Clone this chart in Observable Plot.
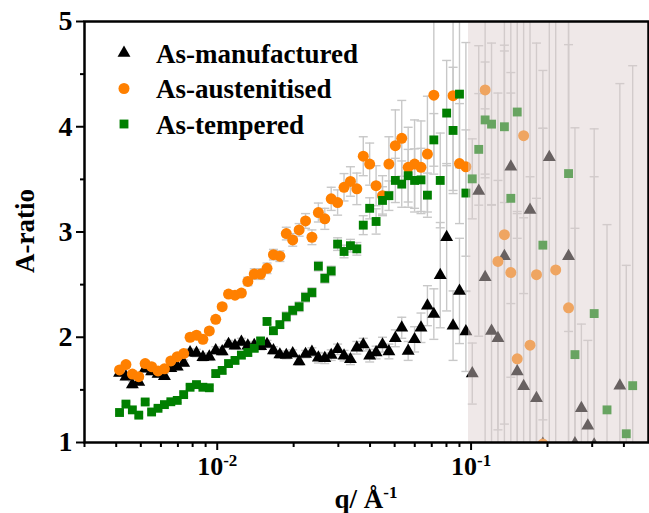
<!DOCTYPE html>
<html><head><meta charset="utf-8">
<script src="https://cdn.jsdelivr.net/npm/d3@7"></script>
<script src="https://cdn.jsdelivr.net/npm/@observablehq/plot@0.6"></script>
<style>
body{margin:0;background:#fff;}
#wrap{position:relative;width:649px;height:513px;}
</style></head><body><div id="wrap"></div>
<script>
// ---- data ----
const q = [0.004122,0.004369,0.004631,0.004908,0.005202,0.005514,0.005844,0.006194,0.006565,0.006958,
 0.007375,0.007817,0.008285,0.008781,0.009307,0.009865,0.01046,0.01108,0.01175,0.01245,
 0.01320,0.01399,0.01482,0.01571,0.01665,0.01765,0.01871,0.01983,0.02102,0.02228,
 0.02361,0.02503,0.02653,0.02812,0.02980,0.03159,0.03348,0.03548,0.03761,0.03986,
 0.04225,0.04478,0.04746,0.05031,0.05332,0.05652,0.05990,0.06349,0.06730,0.07133,
 0.07560,0.08013,0.08493,0.09002,0.09541,0.1011,0.1072,0.1136,0.1204,0.1276,
 0.1353,0.1434,0.1520,0.1611,0.1707,0.1810,0.1918,0.2033,0.2155,0.2284,
 0.2421,0.2566,0.2720,0.2883,0.3055,0.3238,0.3432,0.3638,0.3856,0.4087,
 0.4332];

const manufactured = [1.66,1.625,1.55,1.575,1.70,1.675,1.65,1.63,1.705,1.72,
 1.755,1.855,1.85,1.81,1.815,1.875,1.865,1.935,1.92,1.955,
 1.92,1.925,1.915,1.935,1.875,1.835,1.83,1.845,1.77,1.84,
 1.86,1.805,1.80,1.83,1.885,1.825,1.79,1.90,1.93,1.825,
 1.855,1.93,1.865,1.99,2.09,1.87,1.98,2.09,2.30,2.22,
 2.59,2.95,2.11,2.44,2.055,1.655,3.39,2.57,2.06,1.99,
 2.77,3.62,1.675,1.535,3.21,1.42,0.985,3.71,null,null,
 2.77,0.99,1.325,1.16,0.98,null,null,null,1.54,null,null];
const manufacturedErr = [0.03,0.03,0.03,0.03,0.03,0.03,0.03,0.03,0.03,0.03,
 0.03,0.035,0.035,0.035,0.035,0.035,0.035,0.035,0.035,0.035,
 0.035,0.035,0.035,0.035,0.035,0.035,0.035,0.035,0.035,0.035,
 0.04,0.05,0.05,0.05,0.05,0.05,0.05,0.06,0.06,0.06,
 0.06,0.07,0.07,0.08,0.10,0.09,0.12,0.14,0.19,0.24,
 0.5,0.7,0.33,0.5,0.38,0.29,1.38,1.6,1.2,1.5,
 2.5,2.0,1.5,1.6,2.5,1.9,3,3,0,0,
 3,3,0.8,0.81,3,0,0,0,2.87,0,0];

const austenitised = [1.69,1.74,1.65,1.625,1.75,1.72,1.68,1.70,1.775,1.815,
 1.845,2.00,2.02,1.98,2.06,2.17,2.29,2.41,2.40,2.42,
 2.53,2.60,2.60,2.655,2.785,2.77,2.985,2.925,3.02,3.105,
 2.95,3.185,3.125,3.315,3.28,3.425,3.48,3.41,3.72,3.645,
 3.44,3.345,3.645,3.82,3.89,3.615,3.645,3.615,3.74,4.30,
 null,null,4.295,3.65,3.62,null,null,4.35,null,2.72,
 2.975,2.615,1.795,3.915,1.925,2.595,0.985,null,2.64,null,
 2.28,null,null,null,null,null,null,null,null,null,null];
const austenitisedErr = [0.025,0.025,0.025,0.025,0.025,0.025,0.025,0.025,0.025,0.025,
 0.03,0.03,0.03,0.03,0.03,0.03,0.03,0.03,0.03,0.03,
 0.04,0.05,0.05,0.05,0.05,0.05,0.06,0.06,0.06,0.07,
 0.07,0.09,0.10,0.11,0.12,0.13,0.14,0.15,0.185,0.2,
 0.19,0.19,0.26,0.34,0.36,0.38,0.42,0.44,0.55,0.75,
 0,0,0.9,0.57,1.18,0,0,0.8,0,1.6,
 1.8,1.9,1.4,1.5,1.6,2.2,3,0,2.4,0,
 2.5,0,0,0,0,0,0,0,0,0,0];

const tempered = [1.285,1.365,1.31,1.26,1.385,1.29,1.325,1.36,1.387,1.40,
 1.455,1.525,1.55,1.525,1.52,1.655,1.685,1.75,1.78,1.83,
 1.855,1.895,1.965,2.15,2.062,2.12,2.195,2.255,2.29,2.38,
 2.425,2.675,2.56,2.63,2.885,2.815,2.87,2.84,3.065,3.225,
 3.10,3.30,3.345,3.49,3.455,3.535,3.49,3.495,3.35,3.875,
 3.49,4.13,3.965,4.31,3.37,3.505,3.785,4.065,4.025,null,
 4.0,3.32,4.14,null,null,null,2.875,null,null,null,
 3.555,1.835,null,null,2.225,null,1.31,null,null,1.083,1.54];
const temperedErr = [0.02,0.02,0.02,0.02,0.02,0.02,0.02,0.02,0.02,0.02,
 0.02,0.02,0.02,0.02,0.02,0.03,0.03,0.03,0.03,0.03,
 0.03,0.03,0.03,0.03,0.03,0.03,0.045,0.045,0.045,0.045,
 0.045,0.045,0.045,0.045,0.06,0.06,0.06,0.06,0.09,0.1,
 0.12,0.13,0.14,0.21,0.22,0.25,0.3,0.3,0.21,0.25,
 0.45,0.5,0.6,0.7,0.6,0.38,0.53,0.55,0.77,0,
 0.72,1.0,1.2,0,0,0,1.66,0,0,0,
 1.5,1.2,0,0,1.3,0,1.76,0,0,1.6,3.04];

const seriesNames = ["As-manufactured", "As-austenitised", "As-tempered"];
const seriesColors = ["#000000", "#ff8000", "#007f00"];
const xMajorTicks = [0.01, 0.1];
const xMinorTicks = [0.003,0.004,0.005,0.006,0.007,0.008,0.009,0.02,0.03,0.04,0.05,0.06,0.07,0.08,0.09,0.2,0.3,0.4];
const yMajorTicks = [1, 2, 3, 4, 5];
const yMinorTicks = [1.5, 2.5, 3.5, 4.5];
const shadeRange = [{x1: 0.0977, x2: 0.5, y1: 1, y2: 5}];

// ---- build tables ----
function rows(vals, errs, s) {
  return q.map((x, i) => ({q: x, a: vals[i], e: errs[i], s})).filter(d => d.a != null);
}
const dMan = rows(manufactured, manufacturedErr, seriesNames[0]);
const dAus = rows(austenitised, austenitisedErr, seriesNames[1]);
const dTem = rows(tempered, temperedErr, seriesNames[2]);
const all = [...dMan, ...dAus, ...dTem];

const cap = {draw(ctx) { ctx.moveTo(-4.5, 0); ctx.lineTo(4.5, 0); }};
const errColor = "#c8c8c8";
const font = "'Liberation Serif', 'Times New Roman', serif";
const markerR = [4.8, 5.5, 5.0];

const chart = Plot.plot({
  width: 649, height: 513,
  marginLeft: 84, marginRight: 1, marginTop: 21, marginBottom: 71,
  style: {fontFamily: font, fontWeight: "bold", background: "white", color: "black"},
  x: {type: "log", domain: [0.003, 0.5], axis: null},
  y: {domain: [1, 5], axis: null},
  marks: [
    Plot.ruleX(all, {x: "q", y1: d => d.a - d.e, y2: d => d.a + d.e, stroke: errColor, strokeWidth: 1.4, clip: true}),
    Plot.dot(all, {x: "q", y: d => d.a + d.e, symbol: cap, r: 3, fill: "none", stroke: errColor, strokeWidth: 1.4, clip: true}),
    Plot.dot(all, {x: "q", y: d => d.a - d.e, symbol: cap, r: 3, fill: "none", stroke: errColor, strokeWidth: 1.4, clip: true}),
    Plot.dot(dMan, {x: "q", y: "a", symbol: "triangle", r: markerR[0], fill: seriesColors[0], clip: true}),
    Plot.dot(dAus, {x: "q", y: "a", symbol: "circle", r: markerR[1], fill: seriesColors[1], clip: true}),
    Plot.dot(dTem, {x: "q", y: "a", symbol: "square", r: markerR[2], fill: seriesColors[2], clip: true}),
    Plot.rect(shadeRange, {x1: "x1", x2: "x2", y1: "y1", y2: "y2", fill: "#dccfcf", fillOpacity: 0.47}),
    Plot.axisX(xMinorTicks, {anchor: "bottom", tickSize: 5, strokeWidth: 2, tickFormat: () => "", label: null}),
    Plot.axisX(xMajorTicks, {anchor: "bottom", tickSize: 8, strokeWidth: 2, tickPadding: 6, fontSize: 26, fontWeight: "bold",
      tickFormat: d => "10^" + Math.round(Math.log10(d)), label: null}),
    Plot.axisY(yMinorTicks, {anchor: "left", tickSize: 4, strokeWidth: 2, tickFormat: () => "", label: null}),
    Plot.axisY(yMajorTicks, {anchor: "left", tickSize: 8, strokeWidth: 2, tickPadding: 4, fontSize: 28, fontWeight: "bold",
      tickFormat: d => String(d), label: null}),
    Plot.frame({stroke: "black", strokeWidth: 2.5})
  ]
});

const svg = d3.select(chart);
// superscripts for x tick labels
svg.selectAll("text").each(function() {
  const t = d3.select(this);
  const s = this.textContent;
  if (s.includes("^")) {
    const [base, exp] = s.split("^");
    t.text(null);
    t.append("tspan").text(base);
    t.append("tspan").attr("dy", "-0.55em").attr("font-size", "17px").text(exp);
  }
});

// axis titles
svg.append("text").attr("transform", "translate(34,231) rotate(-90)")
  .attr("text-anchor", "middle").attr("font-family", font).attr("font-weight", "bold")
  .attr("font-size", 27).text("A-ratio");
const xt = svg.append("text").attr("x", 366).attr("y", 508)
  .attr("text-anchor", "middle").attr("font-family", font).attr("font-weight", "bold")
  .attr("font-size", 27);
xt.append("tspan").text("q/ Å");
xt.append("tspan").attr("dy", "-0.6em").attr("font-size", "17px").text("-1");

// legend
const legendSymbols = [d3.symbolTriangle, d3.symbolCircle, d3.symbolSquare];
const lg = svg.append("g").attr("text-anchor", "start");
seriesNames.forEach((name, i) => {
  const cy = 53 + i * 35.5;
  lg.append("path").attr("transform", `translate(124,${cy})`)
    .attr("d", d3.symbol(legendSymbols[i], Math.PI * markerR[i] * markerR[i])())
    .attr("fill", seriesColors[i]);
  lg.append("text").attr("x", 156).attr("y", cy + 9.5).attr("text-anchor", "start")
    .attr("font-family", font).attr("font-weight", "bold").attr("font-size", 27)
    .text(name);
});

document.getElementById("wrap").appendChild(chart);
</script>
</body></html>
